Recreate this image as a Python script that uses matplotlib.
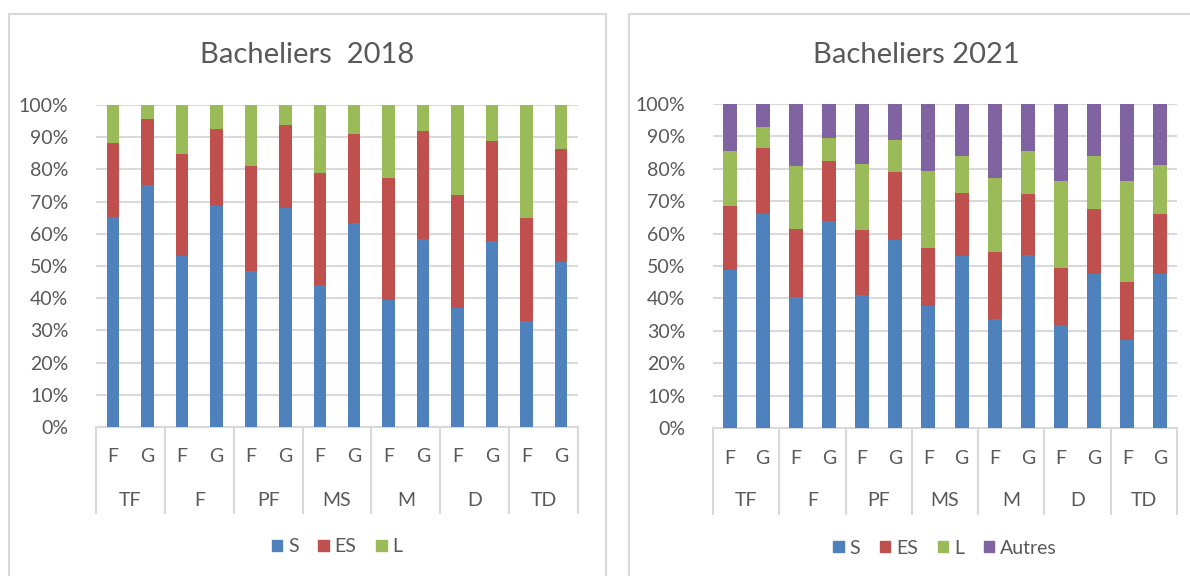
import numpy as np
import matplotlib
matplotlib.use("Agg")
import matplotlib.pyplot as plt
from matplotlib.patches import Rectangle, Patch
from matplotlib.ticker import PercentFormatter

plt.rcParams['font.family'] = ['Lato', 'DejaVu Sans']

groupes = ['TF', 'F', 'PF', 'MS', 'M', 'D', 'TD']
sexes = ['F', 'G']

# Bacheliers 2018 (%)
s_2018 = [65.3, 75.3, 53.1, 68.6, 48.4, 67.9, 44.2, 63.4, 39.5, 58.5, 36.9, 57.9, 32.8, 51.3]
es_2018 = [22.8, 20.2, 31.7, 24.0, 32.7, 25.8, 34.8, 27.7, 37.7, 33.3, 35.1, 31.0, 32.1, 35.0]
l_2018 = [11.9, 4.5, 15.2, 7.4, 18.9, 6.3, 21.0, 8.9, 22.8, 8.2, 28.0, 11.1, 35.1, 13.7]

# Bacheliers 2021 (%)
s_2021 = [48.8, 66.1, 40.5, 63.9, 41.2, 57.9, 37.6, 53.0, 33.6, 53.4, 31.9, 47.6, 27.1, 47.6]
es_2021 = [19.8, 20.2, 20.9, 18.4, 19.8, 21.1, 18.0, 19.6, 20.6, 18.9, 17.5, 19.9, 18.0, 18.5]
l_2021 = [16.9, 6.5, 19.5, 7.2, 20.5, 9.8, 23.8, 11.2, 23.0, 13.2, 26.7, 16.3, 31.0, 15.1]
autres_2021 = [14.5, 7.2, 19.1, 10.5, 18.5, 11.2, 20.6, 16.2, 22.8, 14.5, 23.9, 16.2, 23.9, 18.8]

couleurs = ['#4F81BD', '#C0504D', '#9BBB59', '#8064A2']
gris_txt = '#595959'
gris_ligne = '#D9D9D9'

W, H = 1190, 576
fig = plt.figure(figsize=(W / 100, H / 100), dpi=100)

# panel borders
for x0, x1 in [(9, 606), (629, 1200)]:
    fig.patches.append(Rectangle((x0 / W, -0.1), (x1 - x0) / W, 1.1 - 14 / H,
                                 transform=fig.transFigure, fill=False,
                                 edgecolor=gris_ligne, linewidth=1.5))


def panneau(rect, titre, series, noms, largeur, titre_x):
    ax = fig.add_axes(rect)
    n = len(series[0])
    x = np.arange(n)
    bas = np.zeros(n)
    for vals, c in zip(series, couleurs):
        v = np.array(vals) / 100
        ax.bar(x, v, largeur, bottom=bas, color=c, zorder=3)
        bas += v
    ax.set_xlim(-0.5, n - 0.5)
    ax.set_ylim(0, 1)
    ax.set_yticks(np.arange(0, 1.01, 0.1))
    ax.yaxis.set_major_formatter(PercentFormatter(1.0, decimals=0))
    ax.tick_params(axis='y', length=0, pad=20, labelsize=14, labelcolor=gris_txt)
    ax.set_xticks([])
    ax.grid(axis='y', color=gris_ligne, linewidth=1.5, zorder=0)
    for sp in ['left', 'right', 'top']:
        ax.spines[sp].set_visible(False)
    ax.spines['bottom'].set_color(gris_ligne)
    ax.spines['bottom'].set_linewidth(1.5)

    # hierarchical category axis
    trans = ax.get_xaxis_transform()
    h_ax = rect[3] * H
    bas_lignes = -86 / h_ax
    for b in np.arange(-0.5, n, 2):
        ax.plot([b, b], [0, bas_lignes], transform=trans, color=gris_ligne,
                linewidth=1.5, clip_on=False)
    for i in range(n):
        ax.text(i, -30 / h_ax, sexes[i % 2], transform=trans, ha='center',
                va='center', fontsize=14, color=gris_txt)
    for k, g in enumerate(groupes):
        ax.text(2 * k + 0.5, -73 / h_ax, g, transform=trans, ha='center',
                va='center', fontsize=14, color=gris_txt)

    poignees = [Patch(color=c, label=nm) for c, nm in zip(couleurs, noms)]
    ax.legend(handles=poignees, loc='center', bbox_to_anchor=(0.5, -120 / h_ax),
              ncol=len(noms), frameon=False, fontsize=14, labelcolor=gris_txt,
              handlelength=0.55, handleheight=0.55, handletextpad=0.3,
              columnspacing=1.0)
    fig.text(titre_x / W, 1 - 55 / H, titre, ha='center', va='center',
             fontsize=21, color=gris_txt)
    return ax


panneau([96 / W, 1 - 427 / H, (578 - 96) / W, 322 / H], 'Bacheliers  2018',
        [s_2018, es_2018, l_2018], ['S', 'ES', 'L'], 0.36, 307)
panneau([713 / W, 1 - 428 / H, (1177 - 713) / W, 324 / H], 'Bacheliers 2021',
        [s_2021, es_2021, l_2021, autres_2021], ['S', 'ES', 'L', 'Autres'], 0.42, 916)

fig.savefig('out.png', dpi=100)
